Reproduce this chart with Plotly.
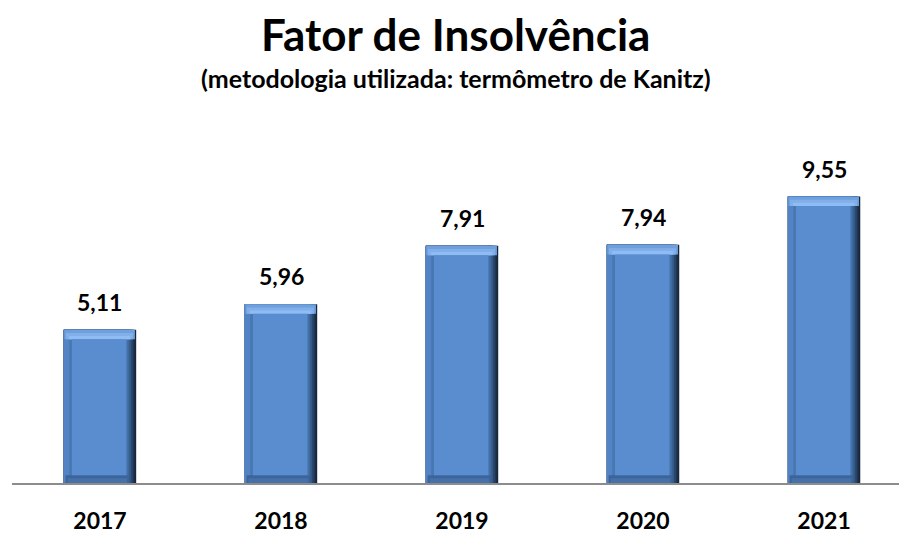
import plotly.graph_objects as go

years = ["2017", "2018", "2019", "2020", "2021"]
values = [5.11, 5.96, 7.91, 7.94, 9.55]
labels = ["5,11", "5,96", "7,91", "7,94", "9,55"]

title_text = "Fator de Insolvência"
subtitle_text = "(metodologia utilizada: termômetro de Kanitz)"

FONT = "Lato"
W = 0.40          # bar width (category units)
TOP = 0.32        # top bevel height (value units)
BOT = 0.26        # bottom bevel height

fig = go.Figure()

def layer(y, width, offset, color, base=None):
    fig.add_trace(go.Bar(x=years, y=y, base=base, width=width, offset=offset,
                         marker=dict(color=color, line=dict(width=0)), hoverinfo="skip"))

# right-edge shadow gradient (dark -> mid)
right_cols = ["#17263b", "#203654", "#2a476d", "#345985", "#3e6a9d", "#4878b2"]
for i, c in enumerate(right_cols):
    layer(values, W - i * 0.0095, -W / 2, c)
# left strip slightly lighter
layer(values, 0.03, -W / 2, "#5283c4")
# bottom bevel gradient
layer([BOT] * len(values), W - 0.05, -W / 2 + 0.01, "#3c639a")
layer([BOT * 0.6] * len(values), W - 0.07, -W / 2 + 0.02, "#4670a8")
# top bevel (light gradient)
layer([TOP] * len(values), W - 0.01, -W / 2 + 0.003, "#6f9fdc", base=[v - TOP for v in values])
layer([TOP * 0.65] * len(values), W - 0.03, -W / 2 + 0.012, "#80afea", base=[v - TOP for v in values])
layer([TOP * 0.35] * len(values), W - 0.06, -W / 2 + 0.028, "#8fbcf2", base=[v - TOP for v in values])
# inner face
layer([v - TOP - BOT for v in values], W - 0.10, -W / 2 + 0.045, "#5a8dd0", base=[BOT] * len(values))

for i, (v, lab) in enumerate(zip(values, labels)):
    fig.add_annotation(x=i, y=v, xref="x", yref="y", text="<b>%s</b>" % lab, showarrow=False,
                       yshift=28, yanchor="middle",
                       font=dict(family=FONT, size=23, color="#000000"))

fig.add_annotation(xref="paper", yref="paper", x=0.5, y=1.2466, yanchor="middle",
                   text="<b>%s</b>" % title_text, showarrow=False,
                   font=dict(family=FONT, size=44, color="#000000"))
fig.add_annotation(xref="paper", yref="paper", x=0.5, y=1.126, yanchor="middle",
                   text="<b>%s</b>" % subtitle_text, showarrow=False,
                   font=dict(family=FONT, size=25, color="#000000"))

fig.update_layout(
    width=899, height=534,
    margin=dict(l=12, r=0, t=123, b=46),
    barmode="overlay",
    showlegend=False,
    plot_bgcolor="white", paper_bgcolor="white",
    xaxis=dict(type="category", range=[-0.486, 4.414], showline=True, linecolor="#8c8c8c",
               linewidth=2, ticks="", showgrid=False, ticklabelstandoff=16,
               tickfont=dict(family=FONT, size=23, color="#000000"),
               tickvals=years, ticktext=["<b>%s</b>" % y for y in years]),
    yaxis=dict(range=[0, 12], visible=False, showgrid=False, zeroline=False),
)

fig.write_html("out.html")
